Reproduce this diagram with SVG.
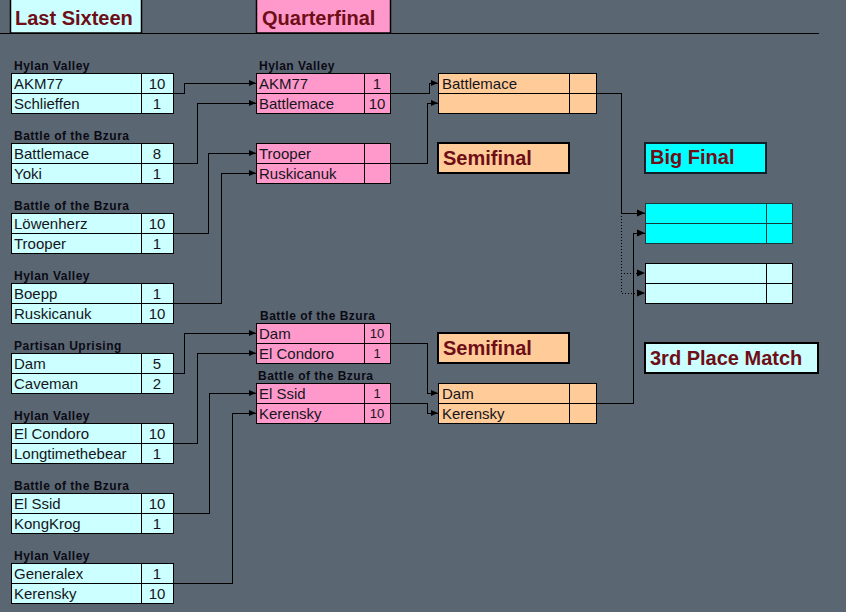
<svg xmlns="http://www.w3.org/2000/svg" width="846" height="612" viewBox="0 0 846 612">
<style>
.bg{fill:#5b6673}
.box{stroke:#000;stroke-width:1;shape-rendering:crispEdges}
.r16{fill:#ccffff}
.qf{fill:#ff99cc}
.sf{fill:#ffcc99}
.fin{fill:#00ffff;stroke:#163a3a}
.third{fill:#ccffff}
.ln{stroke:#000;stroke-width:1;shape-rendering:crispEdges;fill:none}
.name{font-family:"Liberation Sans",Arial,sans-serif;font-size:15px;fill:#151520}
.score{font-family:"Liberation Sans",Arial,sans-serif;font-size:15px;fill:#151520;text-anchor:middle}
.small{font-size:13px}
.lbl{font-family:"Liberation Sans",Arial,sans-serif;font-size:12px;font-weight:bold;fill:#0a0a14;letter-spacing:0.5px}
.head{font-family:"Liberation Sans",Arial,sans-serif;font-size:20px;font-weight:bold;fill:#6e0e16}
.con{stroke:#000;stroke-width:1;fill:none;shape-rendering:crispEdges;marker-end:url(#arr)}
.dot{stroke:#000;stroke-width:1;fill:none;stroke-dasharray:1 2;shape-rendering:crispEdges;marker-end:url(#arr2)}
</style>
<defs>
<marker id="arr" markerUnits="userSpaceOnUse" markerWidth="8" markerHeight="8" refX="7" refY="4" orient="auto">
<path d="M0,1 L7,4 L0,7 Z" fill="#000"/>
</marker>
<marker id="arr2" markerUnits="userSpaceOnUse" markerWidth="9" markerHeight="9" refX="8" refY="4.5" orient="auto">
<path d="M0,1 L8,4.5 L0,8 Z" fill="#000"/>
</marker>
</defs>
<rect class="bg" x="0" y="0" width="846" height="612"/>

<g id="headers">
<g id="h-last16"><rect x="10.5" y="-2" width="131" height="35" fill="#ccffff" stroke="#000" stroke-width="1.5"/><text class="head" x="15" y="25" fill="#5a0f14">Last Sixteen</text></g>
<g id="h-qf"><rect x="256.5" y="-2" width="134" height="35" fill="#ff99cc" stroke="#000" stroke-width="1.5"/><text class="head" x="262" y="25">Quarterfinal</text></g>
<line x1="0" y1="33.5" x2="819" y2="33.5" stroke="#000" stroke-width="1"/>
<g id="h-sf1"><rect x="438" y="143" width="131" height="30" fill="#ffcc99" stroke="#000" stroke-width="2"/><text class="head" x="443" y="165">Semifinal</text></g>
<g id="h-sf2"><rect x="438" y="333" width="131" height="30" fill="#ffcc99" stroke="#000" stroke-width="2"/><text class="head" x="443" y="355">Semifinal</text></g>
<g id="h-final"><rect x="645" y="143" width="121" height="30" fill="#00ffff" stroke="#10202a" stroke-width="2"/><text class="head" x="650" y="164" fill="#102028">Big Final</text></g>
<g id="h-third"><rect x="645" y="343" width="173" height="30" fill="#ccffff" stroke="#000" stroke-width="2"/><text class="head" x="650" y="365" fill="#5a0f14">3rd Place Match</text></g>
</g>

<!-- Last sixteen -->
<g id="r16-1"><text class="lbl" x="14" y="70">Hylan Valley</text><rect class="box r16" x="11" y="73" width="162" height="20"/><rect class="box r16" x="11" y="93" width="162" height="20"/><line class="ln" x1="141" y1="73" x2="141" y2="113"/><text class="name" x="14" y="89">AKM77</text><text class="score" x="157" y="89">10</text><text class="name" x="14" y="109">Schlieffen</text><text class="score" x="157" y="109">1</text></g>
<g id="r16-2"><text class="lbl" x="14" y="140">Battle of the Bzura</text><rect class="box r16" x="11" y="143" width="162" height="20"/><rect class="box r16" x="11" y="163" width="162" height="20"/><line class="ln" x1="141" y1="143" x2="141" y2="183"/><text class="name" x="14" y="159">Battlemace</text><text class="score" x="157" y="159">8</text><text class="name" x="14" y="179">Yoki</text><text class="score" x="157" y="179">1</text></g>
<g id="r16-3"><text class="lbl" x="14" y="210">Battle of the Bzura</text><rect class="box r16" x="11" y="213" width="162" height="20"/><rect class="box r16" x="11" y="233" width="162" height="20"/><line class="ln" x1="141" y1="213" x2="141" y2="253"/><text class="name" x="14" y="229">Löwenherz</text><text class="score" x="157" y="229">10</text><text class="name" x="14" y="249">Trooper</text><text class="score" x="157" y="249">1</text></g>
<g id="r16-4"><text class="lbl" x="14" y="280">Hylan Valley</text><rect class="box r16" x="11" y="283" width="162" height="20"/><rect class="box r16" x="11" y="303" width="162" height="20"/><line class="ln" x1="141" y1="283" x2="141" y2="323"/><text class="name" x="14" y="299">Boepp</text><text class="score" x="157" y="299">1</text><text class="name" x="14" y="319">Ruskicanuk</text><text class="score" x="157" y="319">10</text></g>
<g id="r16-5"><text class="lbl" x="14" y="350">Partisan Uprising</text><rect class="box r16" x="11" y="353" width="162" height="20"/><rect class="box r16" x="11" y="373" width="162" height="20"/><line class="ln" x1="141" y1="353" x2="141" y2="393"/><text class="name" x="14" y="369">Dam</text><text class="score" x="157" y="369">5</text><text class="name" x="14" y="389">Caveman</text><text class="score" x="157" y="389">2</text></g>
<g id="r16-6"><text class="lbl" x="14" y="420">Hylan Valley</text><rect class="box r16" x="11" y="423" width="162" height="20"/><rect class="box r16" x="11" y="443" width="162" height="20"/><line class="ln" x1="141" y1="423" x2="141" y2="463"/><text class="name" x="14" y="439">El Condoro</text><text class="score" x="157" y="439">10</text><text class="name" x="14" y="459">Longtimethebear</text><text class="score" x="157" y="459">1</text></g>
<g id="r16-7"><text class="lbl" x="14" y="490">Battle of the Bzura</text><rect class="box r16" x="11" y="493" width="162" height="20"/><rect class="box r16" x="11" y="513" width="162" height="20"/><line class="ln" x1="141" y1="493" x2="141" y2="533"/><text class="name" x="14" y="509">El Ssid</text><text class="score" x="157" y="509">10</text><text class="name" x="14" y="529">KongKrog</text><text class="score" x="157" y="529">1</text></g>
<g id="r16-8"><text class="lbl" x="14" y="560">Hylan Valley</text><rect class="box r16" x="11" y="563" width="162" height="20"/><rect class="box r16" x="11" y="583" width="162" height="20"/><line class="ln" x1="141" y1="563" x2="141" y2="603"/><text class="name" x="14" y="579">Generalex</text><text class="score" x="157" y="579">1</text><text class="name" x="14" y="599">Kerensky</text><text class="score" x="157" y="599">10</text></g>

<!-- Quarterfinals -->
<g id="qf-1"><text class="lbl" x="259" y="70">Hylan Valley</text><rect class="box qf" x="256" y="73" width="134" height="20"/><rect class="box qf" x="256" y="93" width="134" height="20"/><line class="ln" x1="364" y1="73" x2="364" y2="113"/><text class="name" x="259" y="89">AKM77</text><text class="score" x="377" y="89">1</text><text class="name" x="259" y="109">Battlemace</text><text class="score" x="377" y="109">10</text></g>
<g id="qf-2"><rect class="box qf" x="256" y="143" width="134" height="20"/><rect class="box qf" x="256" y="163" width="134" height="20"/><line class="ln" x1="364" y1="143" x2="364" y2="183"/><text class="name" x="259" y="159">Trooper</text><text class="name" x="259" y="179">Ruskicanuk</text></g>
<g id="qf-3"><text class="lbl" x="260" y="320">Battle of the Bzura</text><rect class="box qf" x="256" y="323" width="134" height="20"/><rect class="box qf" x="256" y="343" width="134" height="20"/><line class="ln" x1="364" y1="323" x2="364" y2="363"/><text class="name" x="259" y="339">Dam</text><text class="score small" x="377" y="338">10</text><text class="name" x="259" y="359">El Condoro</text><text class="score small" x="377" y="358">1</text></g>
<g id="qf-4"><text class="lbl" x="258" y="380">Battle of the Bzura</text><rect class="box qf" x="256" y="383" width="134" height="20"/><rect class="box qf" x="256" y="403" width="134" height="20"/><line class="ln" x1="364" y1="383" x2="364" y2="423"/><text class="name" x="259" y="399">El Ssid</text><text class="score small" x="377" y="398">1</text><text class="name" x="259" y="419">Kerensky</text><text class="score small" x="377" y="418">10</text></g>

<!-- Semifinals -->
<g id="sf-1"><rect class="box sf" x="438" y="73" width="158" height="20"/><rect class="box sf" x="438" y="93" width="158" height="20"/><line class="ln" x1="569" y1="73" x2="569" y2="113"/><text class="name" x="442" y="89">Battlemace</text></g>
<g id="sf-2"><rect class="box sf" x="438" y="383" width="158" height="20"/><rect class="box sf" x="438" y="403" width="158" height="20"/><line class="ln" x1="569" y1="383" x2="569" y2="423"/><text class="name" x="442" y="399">Dam</text><text class="name" x="442" y="419">Kerensky</text></g>

<!-- Final and 3rd place -->
<g id="final"><rect class="box fin" x="645" y="203" width="147" height="20"/><rect class="box fin" x="645" y="223" width="147" height="20"/><line x1="766" y1="203" x2="766" y2="243" stroke="#163a3a" shape-rendering="crispEdges"/></g>
<g id="third"><rect class="box third" x="645" y="263" width="147" height="20"/><rect class="box third" x="645" y="283" width="147" height="20"/><line class="ln" x1="766" y1="263" x2="766" y2="303"/></g>

<g id="connectors">
<path class="con" d="M173,93 H184 V83 H256"/>
<path class="con" d="M173,163 H197 V103 H256"/>
<path class="con" d="M173,233 H208 V153 H256"/>
<path class="con" d="M173,303 H221 V173 H256"/>
<path class="con" d="M173,373 H184 V333 H256"/>
<path class="con" d="M173,443 H197 V353 H256"/>
<path class="con" d="M173,513 H209 V393 H256"/>
<path class="con" d="M173,583 H232 V413 H256"/>
<path class="con" d="M390,93 H429 V83 H438"/>
<path class="con" d="M390,163 H427 V103 H438"/>
<path class="con" d="M390,343 H427 V393 H438"/>
<path class="con" d="M390,403 H427 V413 H438"/>
<path class="con" d="M596,93 H621 V213 H645" style="marker-end:url(#arr2)"/>
<path class="con" d="M596,403 H633 V233 H645" style="marker-end:url(#arr2)"/>
<path class="dot" d="M621,213 V293 H645"/>
<path class="dot" d="M621,273 H645"/>
</g>
</svg>
